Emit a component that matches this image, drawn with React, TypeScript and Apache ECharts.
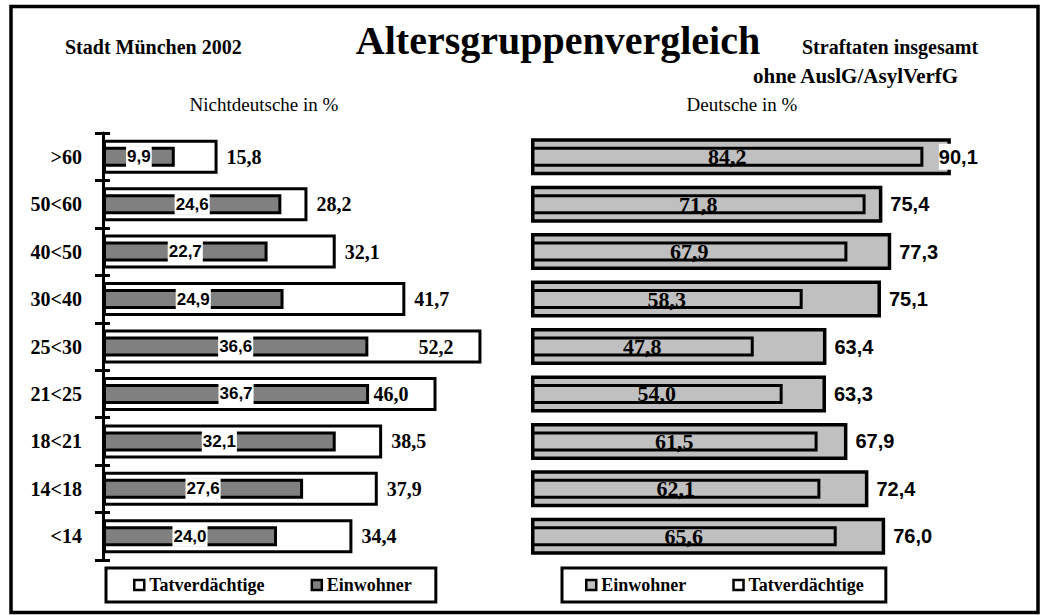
import React, { useEffect, useRef } from 'react';
import * as echarts from 'echarts';

const categories = ['>60', '50<60', '40<50', '30<40', '25<30', '21<25', '18<21', '14<18', '<14'];
// Nichtdeutsche in %
const ndTatverdaechtige = [15.8, 28.2, 32.1, 41.7, 52.2, 46.0, 38.5, 37.9, 34.4];
const ndEinwohner = [9.9, 24.6, 22.7, 24.9, 36.6, 36.7, 32.1, 27.6, 24.0];
// Deutsche in %
const dEinwohner = [90.1, 75.4, 77.3, 75.1, 63.4, 63.3, 67.9, 72.4, 76.0];
const dTatverdaechtige = [84.2, 71.8, 67.9, 58.3, 47.8, 54.0, 61.5, 62.1, 65.6];

// labels placed inside the bar end in the original
const ndTatInsideIdx = [4, 5];
const dEinwShiftIdx = [0];

const SERIF = '"Liberation Serif", "Times New Roman", serif';
const SANS = '"Liberation Sans", Arial, sans-serif';

const fmt = (p: any) => Number(p.value).toFixed(1).replace('.', ',');

export default function App() {
  const ref = useRef<HTMLDivElement>(null);
  useEffect(() => {
    if (!ref.current) return;
    const chart = echarts.init(ref.current, null, { renderer: 'svg' });
    const tick = { color: '#000', width: 3 };
    const option: any = {
      animation: false,
      backgroundColor: '#fff',
      grid: [
        { left: 103, top: 133, width: 7.25 * 56, height: 427, containLabel: false, outerBoundsMode: 'none' },
        { left: 531, top: 133, width: 466, height: 427, containLabel: false, outerBoundsMode: 'none' },
      ],
      xAxis: [
        { type: 'value', gridIndex: 0, min: 0, max: 56, show: false },
        { type: 'value', gridIndex: 1, min: 0, max: 100, show: false },
      ],
      yAxis: [
        {
          type: 'category', gridIndex: 0, data: categories, inverse: true, position: 'left',
          axisLine: { show: true, lineStyle: { color: '#000', width: 3 } },
          axisTick: { show: true, inside: false, length: 8, lineStyle: tick },
          axisLabel: { show: true, margin: 21, fontFamily: SERIF, fontWeight: 'bold', fontSize: 20, color: '#000' },
          splitLine: { show: false },
        },
        {
          type: 'category', gridIndex: 0, data: categories, inverse: true, position: 'left', offset: 0,
          axisLine: { show: false },
          axisTick: { show: true, inside: true, length: 7, lineStyle: tick },
          axisLabel: { show: false },
          splitLine: { show: false },
        },
        { type: 'category', gridIndex: 1, data: categories, inverse: true, show: false },
        { type: 'category', gridIndex: 1, data: categories, inverse: true, show: false },
      ],
      legend: [
        {
          left: 106, top: 568, orient: 'horizontal', padding: [8, 24, 8, 27], itemGap: 46,
          itemWidth: 10, itemHeight: 10, borderColor: '#000', borderWidth: 3, backgroundColor: '#fff',
          selectedMode: false, icon: 'rect',
          textStyle: { fontFamily: SERIF, fontWeight: 'bold', fontSize: 18, color: '#000' },
          data: [
            { name: 'Tatverdächtige', itemStyle: { color: '#fff', borderColor: '#000', borderWidth: 2.5 } },
            { name: 'Einwohner', itemStyle: { color: '#808080', borderColor: '#000', borderWidth: 2.5 } },
          ],
        },
        {
          left: 562, top: 568, orient: 'horizontal', padding: [8, 22, 8, 23], itemGap: 46,
          itemWidth: 10, itemHeight: 10, borderColor: '#000', borderWidth: 3, backgroundColor: '#fff',
          selectedMode: false, icon: 'rect',
          textStyle: { fontFamily: SERIF, fontWeight: 'bold', fontSize: 18, color: '#000' },
          data: [
            { name: 'Einwohner', itemStyle: { color: '#c0c0c0', borderColor: '#000', borderWidth: 2.5 } },
            { name: 'Tatverdächtige', itemStyle: { color: '#fff', borderColor: '#000', borderWidth: 2.5 } },
          ],
        },
      ],
      series: [
        {
          type: 'bar', name: 'Tatverdächtige', xAxisIndex: 0, yAxisIndex: 0, barWidth: 34,
          itemStyle: { color: '#fff', borderColor: '#000', borderWidth: 3 },
          label: {
            show: true, position: 'right', distance: 9, formatter: fmt,
            fontFamily: SERIF, fontWeight: 'bold', fontSize: 20, color: '#000',
          },
          data: ndTatverdaechtige.map((v, i) =>
            ndTatInsideIdx.includes(i)
              ? { value: v, label: { position: 'insideRight', distance: 28, backgroundColor: '#fff' } }
              : v
          ),
        },
        {
          type: 'bar', name: 'Einwohner', xAxisIndex: 0, yAxisIndex: 1, barWidth: 20,
          itemStyle: { color: '#808080', borderColor: '#000', borderWidth: 3 },
          label: {
            show: true, position: 'inside', formatter: fmt,
            fontFamily: SANS, fontWeight: 'bold', fontSize: 17, color: '#000',
            backgroundColor: '#fff', padding: [2, 1],
          },
          data: ndEinwohner,
        },
        {
          type: 'bar', name: 'Einwohner', xAxisIndex: 1, yAxisIndex: 2, barWidth: 37,
          itemStyle: { color: '#c0c0c0', borderColor: '#000', borderWidth: 3.5 },
          label: {
            show: true, position: 'right', distance: 8, formatter: fmt,
            fontFamily: SANS, fontWeight: 'bold', fontSize: 20, color: '#000',
            backgroundColor: '#fff', padding: [3, 0],
          },
          data: dEinwohner.map((v, i) =>
            dEinwShiftIdx.includes(i) ? { value: v, label: { offset: [-20, 0] } } : v
          ),
        },
        {
          type: 'bar', name: 'Tatverdächtige', xAxisIndex: 1, yAxisIndex: 3, barWidth: 20,
          itemStyle: { color: 'rgba(0,0,0,0)', borderColor: '#000', borderWidth: 3 },
          label: {
            show: true, position: 'inside', formatter: fmt,
            fontFamily: SERIF, fontWeight: 'bold', fontSize: 22, color: '#000',
          },
          data: dTatverdaechtige,
        },
      ],
      graphic: [
        {
          type: 'rect', shape: { x: 11, y: 6.5, width: 1027, height: 606 },
          style: { fill: 'none', stroke: '#000', lineWidth: 3.5 }, z: 100, silent: true,
        },
        {
          type: 'text', x: 65, y: 47,
          style: { text: 'Stadt München 2002', font: `bold 20px ${SERIF}`, fill: '#000', textAlign: 'left', textVerticalAlign: 'middle', verticalAlign: 'middle' },
        },
        {
          type: 'text', x: 558, y: 40,
          style: { text: 'Altersgruppenvergleich', font: `bold 40px ${SERIF}`, fill: '#000', textAlign: 'center', textVerticalAlign: 'middle', verticalAlign: 'middle' },
        },
        {
          type: 'text', x: 802, y: 47,
          style: { text: 'Straftaten insgesamt', font: `bold 20px ${SERIF}`, fill: '#000', textAlign: 'left', textVerticalAlign: 'middle', verticalAlign: 'middle' },
        },
        {
          type: 'text', x: 753, y: 76,
          style: { text: 'ohne AuslG/AsylVerfG', font: `bold 21px ${SERIF}`, fill: '#000', textAlign: 'left', textVerticalAlign: 'middle', verticalAlign: 'middle' },
        },
        {
          type: 'text', x: 264, y: 104,
          style: { text: 'Nichtdeutsche in %', font: `19px ${SERIF}`, fill: '#000', textAlign: 'center', textVerticalAlign: 'middle', verticalAlign: 'middle' },
        },
        {
          type: 'text', x: 742, y: 104,
          style: { text: 'Deutsche in %', font: `19px ${SERIF}`, fill: '#000', textAlign: 'center', textVerticalAlign: 'middle', verticalAlign: 'middle' },
        },
      ],
    };
    chart.setOption(option);
    return () => chart.dispose();
  }, []);
  return <div ref={ref} style={{ position: 'fixed', left: 0, top: 0, width: 1048, height: 615 }} />;
}
